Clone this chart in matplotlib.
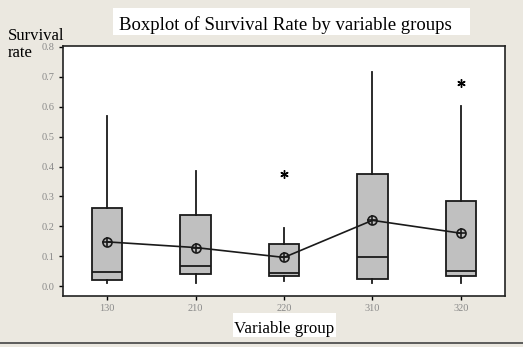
import matplotlib
matplotlib.use("Agg")
import matplotlib.pyplot as plt
from matplotlib.lines import Line2D
from matplotlib.patches import Rectangle

groups = ['130', '210', '220', '310', '320']
q1 = [0.020, 0.039, 0.033, 0.023, 0.033]
medians = [0.048, 0.068, 0.044, 0.097, 0.050]
q3 = [0.262, 0.237, 0.140, 0.374, 0.285]
whis_lo = [0.010, 0.009, 0.018, 0.009, 0.009]
whis_hi = [0.569, 0.385, 0.196, 0.717, 0.602]
means = [0.148, 0.129, 0.096, 0.220, 0.177]
outliers = [[], [], [0.374], [], [0.678]]
yticks = [0.0, 0.1, 0.2, 0.3, 0.4, 0.5, 0.6, 0.7, 0.8]

serif = ['Liberation Serif', 'DejaVu Serif']
bg = '#ebe8e0'
W, H = 523, 347

fig = plt.figure(figsize=(5.23, 3.47), dpi=100, facecolor=bg)
ax = fig.add_axes([63 / W, 1 - 296 / H, 442 / W, 250 / H])
ax.set_facecolor('white')

stats = []
for i in range(len(groups)):
    stats.append(dict(label=groups[i], med=medians[i], q1=q1[i], q3=q3[i],
                      whislo=whis_lo[i], whishi=whis_hi[i], fliers=outliers[i],
                      mean=means[i]))

pos = list(range(1, len(groups) + 1))
ax.bxp(stats, positions=pos, widths=0.345, patch_artist=True, showcaps=False,
       boxprops=dict(facecolor='#c0c0c0', edgecolor='#1a1a1a', linewidth=1.3),
       medianprops=dict(color='#1a1a1a', linewidth=1.3),
       whiskerprops=dict(color='#1a1a1a', linewidth=1.3),
       flierprops=dict(marker=(6, 2, 0), markersize=6, markeredgecolor='black',
                       markeredgewidth=1.0))

# mean connect line with circled-plus markers
ax.plot(pos, means, '-', color='#1a1a1a', lw=1.2, zorder=4)
ax.plot(pos, means, 'o', ms=6.5, mfc='none', mec='#1a1a1a', mew=1.2, zorder=5)
ax.plot(pos, means, '+', ms=6.5, mec='#1a1a1a', mew=1.2, zorder=5)

ax.set_xlim(0.5, 5.5)
ax.set_ylim(-0.033, 0.803)
ax.set_yticks(yticks)
ax.set_yticklabels(['%.1f' % t for t in yticks])
ax.set_xticks(pos)
ax.set_xticklabels(groups)
ax.tick_params(direction='out', length=3, width=1, labelsize=7.5,
               labelcolor='#8a8a8a', pad=3)
for lab in ax.get_xticklabels() + ax.get_yticklabels():
    lab.set_family(serif)
for s in ax.spines.values():
    s.set_linewidth(1.2)
    s.set_color('#222222')

# title with its white backing strip
fig.add_artist(Rectangle((113 / W, 1 - 35 / H), (470 - 113) / W, 27 / H,
                         facecolor='white', edgecolor='none',
                         transform=fig.transFigure))
fig.text(285 / W, 1 - 30 / H, 'Boxplot of Survival Rate by variable groups',
         ha='center', va='baseline', fontsize=13.5, family=serif)
fig.text(8 / W, 1 - 40 / H, 'Survival', ha='left', va='baseline',
         fontsize=12, family=serif)
fig.text(8 / W, 1 - 57 / H, 'rate', ha='left', va='baseline',
         fontsize=12, family=serif)

fig.add_artist(Rectangle((233 / W, 1 - 337 / H), 103 / W, 24 / H,
                         facecolor='white', edgecolor='none',
                         transform=fig.transFigure))
fig.text(284 / W, 1 - 333 / H, 'Variable group', ha='center', va='baseline',
         fontsize=12.2, family=serif)

fig.add_artist(Line2D([0, 1], [4 / H, 4 / H], color='#444444', lw=1.2,
                      transform=fig.transFigure))

fig.savefig('out.png', dpi=100, facecolor=bg)
